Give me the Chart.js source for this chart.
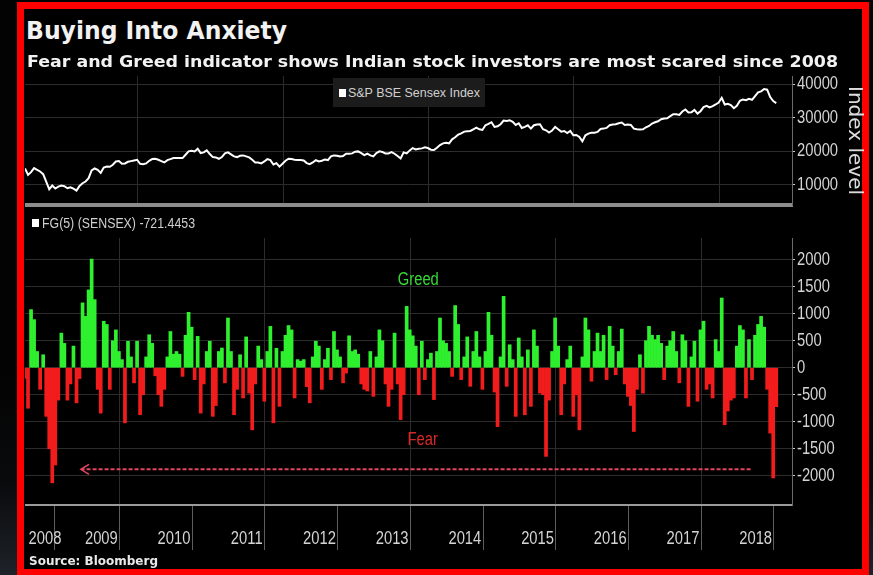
<!DOCTYPE html>
<html><head><meta charset="utf-8">
<script src="https://cdn.jsdelivr.net/npm/chart.js@4.4.1/dist/chart.umd.min.js"></script>
<style>
html,body{margin:0;padding:0;width:873px;height:575px;overflow:hidden;
  background:linear-gradient(to top,#1e2329 0px,#0a0b0d 90px,#030303 200px);}
#frame{position:absolute;left:17px;top:2px;width:838px;height:560px;border:7px solid #ff0000;background:#000;}
.t{position:absolute;white-space:nowrap;display:inline-block;transform-origin:0 0;line-height:1;}
#title{left:26px;top:17px;font:bold 24px "DejaVu Sans",sans-serif;color:#f2f2f2;}
#subtitle{left:27px;top:51.5px;font:bold 16px "DejaVu Sans",sans-serif;color:#f2f2f2;}
#source{left:29px;top:554px;font:bold 12px "DejaVu Sans",sans-serif;color:#e8e8e8;}
.narrow{font-family:"Liberation Sans",Arial,sans-serif;}
#legTopBox{position:absolute;left:333px;top:78px;width:152px;height:29px;background:#1c1c1c;}
#legTopSq{position:absolute;left:339px;top:89px;width:7px;height:8px;background:#fff;}
#legTop{left:348px;top:86px;font-size:13px;color:#d0d0d0;}
#legBotSq{position:absolute;left:32px;top:219px;width:7px;height:8px;background:#fff;}
#legBot{left:42px;top:216px;font-size:14px;color:#cfcfcf;}
#topWrap{position:absolute;left:25px;top:70px;width:841px;height:140px;}
#botWrap{position:absolute;left:25px;top:212px;width:841px;height:343px;}
</style></head>
<body>
<div id="frame"></div>
<div id="topWrap"><canvas id="topChart" width="841" height="140"></canvas></div>
<div id="botWrap"><canvas id="botChart" width="841" height="343"></canvas></div>
<div id="title" class="t" data-w="261">Buying Into Anxiety</div>
<div id="subtitle" class="t" data-w="811">Fear and Greed indicator shows Indian stock investors are most scared since 2008</div>
<div id="source" class="t" data-w="129">Source: Bloomberg</div>
<div id="legTopBox"></div><div id="legTopSq"></div>
<div id="legTop" class="t narrow" data-w="132">S&amp;P BSE Sensex Index</div>
<div id="legBotSq"></div>
<div id="legBot" class="t narrow" data-w="153">FG(5) (SENSEX) -721.4453</div>
<script>
// ---- data (semi-monthly observations starting mid-June 2008) ----
const startYear = 2008.45;
const periodsPerYear = 24;

const sensexValues = [
  14900,13000,13800,15000,14500,14000,13200,11000,8700,9800,8900,9500,9800,
  9600,9000,9300,8900,8300,9700,10500,11000,12000,14300,14900,14500,13600,15200,15500,15400,16000,17000,17100,16300,16400,16900,17100,17300,
  17500,16300,16200,16400,17200,17700,17800,17500,17100,16700,17400,17700,18000,18000,18000,18000,19000,20000,20200,20000,20800,19500,19700,20300,
  19200,18300,18200,17800,18300,19400,19700,19100,18500,18300,18700,18800,18500,18200,17500,16700,16700,16400,17000,17700,17400,16100,16500,15450,
  16300,17200,17800,17700,17500,17400,17400,17300,16500,16200,16700,17400,17000,17200,17600,17400,18500,18800,18700,18500,18600,19300,19300,19400,
  19900,20000,19500,18900,19300,18800,18500,19500,20000,19800,19400,19400,19800,19300,18600,17900,19700,19400,20300,21000,20600,20800,20900,21200,
  21000,20500,20400,21100,21900,22400,22600,22400,23600,24200,25000,25400,25900,26000,26100,26600,27100,26600,26400,27800,28200,28700,27300,27500,
  28100,29200,29100,29300,28800,27900,28400,27000,27300,27800,26800,27800,28000,28100,26600,26300,25600,26200,27300,26600,25900,26100,25500,26100,
  24800,24900,24300,23000,24800,25300,25600,25600,25800,26700,26800,27000,27800,28000,28100,28400,28600,27900,28000,27900,26800,26600,26500,26600,
  27200,27600,28300,28700,29000,29600,29800,29900,30500,31100,31100,30900,31900,32500,31600,31700,32400,31300,32000,33200,33600,33100,33500,34000,
  34600,36000,34000,34200,33800,32900,33600,35100,35500,35300,35700,35400,36500,37600,37900,38600,38400,36200,35000,34400
];

const fgValues = [
  -200,-750,1075,890,300,-400,240,-900,-1500,-2130,-1800,-600,640,450,-600,-300,400,-650,-200,1200,
  950,1440,2010,1260,-400,-840,860,800,-400,500,700,300,150,-1020,490,200,-280,490,-870,-500,
  200,610,450,-150,-500,-715,-400,200,670,250,300,250,-160,600,1025,750,-220,580,-840,-300,
  300,490,-900,-700,300,365,-280,920,300,-870,-400,240,-560,570,-470,-1150,-300,400,150,-620,
  300,765,-1020,360,-715,300,600,780,700,-560,150,120,150,-350,-650,200,490,400,-400,150,
  360,-220,670,330,200,-280,-100,590,300,330,250,-300,-400,-430,300,-530,200,700,500,-300,
  -715,-400,640,-300,-960,-500,1135,700,590,400,-500,490,-220,150,270,-590,300,920,500,450,
  300,-160,1150,800,-220,200,570,-345,300,670,200,-400,300,1025,600,-450,-1090,200,1320,-345,
  425,150,-900,550,200,-870,330,-715,700,400,-470,-500,-1640,-600,300,920,400,-870,-300,150,
  400,-900,-500,-1150,200,920,700,-250,300,640,300,600,-220,765,400,-130,300,715,-300,-530,
  -700,-1180,-400,240,-470,500,765,600,520,600,450,-220,400,500,670,300,-280,610,500,-715,
  200,490,-620,700,860,-400,-300,-560,520,300,1290,-1055,-800,-600,-560,400,780,700,-560,520,
  -220,600,800,950,750,-400,-1210,-2040,-721
];

const yearLabels = ['2008','2009','2010','2011','2012','2013','2014','2015','2016','2017','2018'];
const indexTicks = [10000,20000,30000,40000];
const fgTicks = [-2000,-1500,-1000,-500,0,500,1000,1500,2000];
const greedLabel = {text:'Greed', x:2013.86, y:1630};
const fearLabel  = {text:'Fear',  x:2013.92, y:-1333};
const arrowSpan  = {from:2018.43, to:2009.22, y:-1880};

// ---- settings ----
const X_MIN = 2008.45, X_MAX = 2019.0;
const GREEN = '#2ef02e', RED = '#f21c1c';
const NARROW = '"Liberation Sans",Arial,sans-serif';
const GRID = '#2c2c2c';
const toX = i => startYear + i / periodsPerYear;

// draw Liberation Sans canvas text horizontally condensed (Arial-Narrow look)
function condense(canvas, factor){
  const ctx = canvas.getContext('2d');
  const orig = ctx.fillText;
  ctx.fillText = function(text, x, y, maxWidth){
    if (!/Liberation Sans/.test(this.font)) return orig.apply(this, arguments);
    this.save(); this.translate(x, y); this.scale(factor, 1);
    if (maxWidth !== undefined) orig.call(this, text, 0, 0, maxWidth / factor);
    else orig.call(this, text, 0, 0);
    this.restore();
  };
}
condense(document.getElementById('topChart'), 0.82);
condense(document.getElementById('botChart'), 0.82);

const firstYear = parseInt(yearLabels[0],10);
const boundaries = yearLabels.map((y,i)=>firstYear+i+1);          // 2009..2019
const evenGrid = boundaries.filter(y => y % 2 === 0 && y < X_MAX); // 2010..2018
const noPad = s => { s.paddingTop = 0; s.paddingBottom = 0; s.paddingLeft = 0; s.paddingRight = 0; };

const topChart = new Chart(document.getElementById('topChart'), {
  type:'line',
  data:{datasets:[{data: sensexValues.map((v,i)=>({x:toX(i), y:v})),
    borderColor:'#ffffff', borderWidth:2, pointRadius:0, tension:0}]},
  options:{
    responsive:false, animation:false,
    layout:{padding:{top:6,left:0,right:0,bottom:0}},
    plugins:{legend:{display:false}, tooltip:{enabled:false}},
    scales:{
      x:{type:'linear', min:X_MIN, max:X_MAX,
        afterBuildTicks:s=>{s.ticks = evenGrid.map(v=>({value:v}));},
        ticks:{display:false}, grid:{color:GRID, drawTicks:false},
        border:{color:'#8c8c8c', width:4},
        afterFit:s=>{s.height = 5; noPad(s);}},
      y:{position:'right', min:4000, max:42500,
        afterBuildTicks:s=>{s.ticks = indexTicks.map(v=>({value:v}));},
        ticks:{color:'#d4d4d4', font:{family:NARROW, size:18}, padding:2, callback:v=>String(v)},
        grid:{color:GRID, tickLength:3, tickColor:'#cfcfcf'},
        border:{color:'#6a6a6a', width:1},
        title:{display:true, text:'Index level', color:'#dcdcdc', font:{family:'"DejaVu Sans",sans-serif', size:20}, padding:0},
        afterFit:s=>{s.width = 74; noPad(s);}}
    }
  }
});

const annotPlugin = {
  id:'annot',
  afterDatasetsDraw(chart){
    const {ctx, scales:{x, y}} = chart;
    ctx.save();
    ctx.font = '18px ' + NARROW;
    ctx.textAlign = 'center'; ctx.textBaseline = 'middle';
    ctx.fillStyle = '#38d838';
    ctx.fillText(greedLabel.text, x.getPixelForValue(greedLabel.x), y.getPixelForValue(greedLabel.y));
    ctx.fillStyle = '#d82828';
    ctx.fillText(fearLabel.text, x.getPixelForValue(fearLabel.x), y.getPixelForValue(fearLabel.y));
    const x0 = x.getPixelForValue(arrowSpan.from), x1 = x.getPixelForValue(arrowSpan.to), ay = y.getPixelForValue(arrowSpan.y);
    ctx.strokeStyle = '#e0455f'; ctx.lineWidth = 2;
    ctx.setLineDash([4,2]);
    ctx.beginPath(); ctx.moveTo(x0, ay); ctx.lineTo(x1, ay); ctx.stroke();
    ctx.setLineDash([]);
    ctx.lineWidth = 1.6;
    ctx.beginPath(); ctx.moveTo(x1+8, ay-5); ctx.lineTo(x1, ay); ctx.lineTo(x1+8, ay+5); ctx.stroke();
    ctx.restore();
  }
};

const xTicks = [];
xTicks.push({value:(X_MIN + boundaries[0])/2, label:yearLabels[0]});
boundaries.forEach((b,i)=>{
  xTicks.push({value:b, label:''});
  if (i+1 < yearLabels.length) xTicks.push({value:b+0.5, label:yearLabels[i+1]});
});

const botChart = new Chart(document.getElementById('botChart'), {
  type:'bar',
  data:{datasets:[{data: fgValues.map((v,i)=>({x:toX(i), y:v})),
    backgroundColor: c => (c.raw && c.raw.y >= 0) ? GREEN : RED,
    barPercentage:1, categoryPercentage:1, borderWidth:0}]},
  options:{
    responsive:false, animation:false,
    layout:{padding:{top:26,left:0,right:0,bottom:0}},
    plugins:{legend:{display:false}, tooltip:{enabled:false}},
    scales:{
      x:{type:'linear', min:X_MIN, max:X_MAX, offset:false,
        afterBuildTicks:s=>{s.ticks = xTicks.map(t=>({value:t.value}));},
        ticks:{autoSkip:false, maxRotation:0, color:'#d4d4d4', font:{family:NARROW, size:18}, padding:-22,
          callback:(v)=>{const t = xTicks.find(k=>Math.abs(k.value-v)<1e-6); return t ? t.label : '';}},
        grid:{tickLength:45,
          color: c => (c.tick && Number.isInteger(c.tick.value) && c.tick.value % 2 === 0 && c.tick.value < X_MAX) ? GRID : 'rgba(0,0,0,0)',
          tickColor: c => (c.tick && Number.isInteger(c.tick.value)) ? '#5e5e5e' : 'rgba(0,0,0,0)'},
        border:{color:'#9a9a9a', width:2},
        afterFit:s=>{s.height = 50; noPad(s);}},
      y:{position:'right', min:-2540, max:2400,
        afterBuildTicks:s=>{s.ticks = fgTicks.map(v=>({value:v}));},
        ticks:{color:'#d4d4d4', font:{family:NARROW, size:18}, padding:2, callback:v=>String(v)},
        grid:{color:GRID, tickLength:3, tickColor:'#cfcfcf'},
        border:{color:'#6a6a6a', width:1},
        afterFit:s=>{s.width = 74; noPad(s);}}
    }
  },
  plugins:[annotPlugin]
});

document.querySelectorAll('[data-w]').forEach(el=>{
  const w = el.getBoundingClientRect().width;
  if (w > 0) el.style.transform = 'scaleX(' + (parseFloat(el.dataset.w)/w) + ')';
});
</script>
</body></html>
